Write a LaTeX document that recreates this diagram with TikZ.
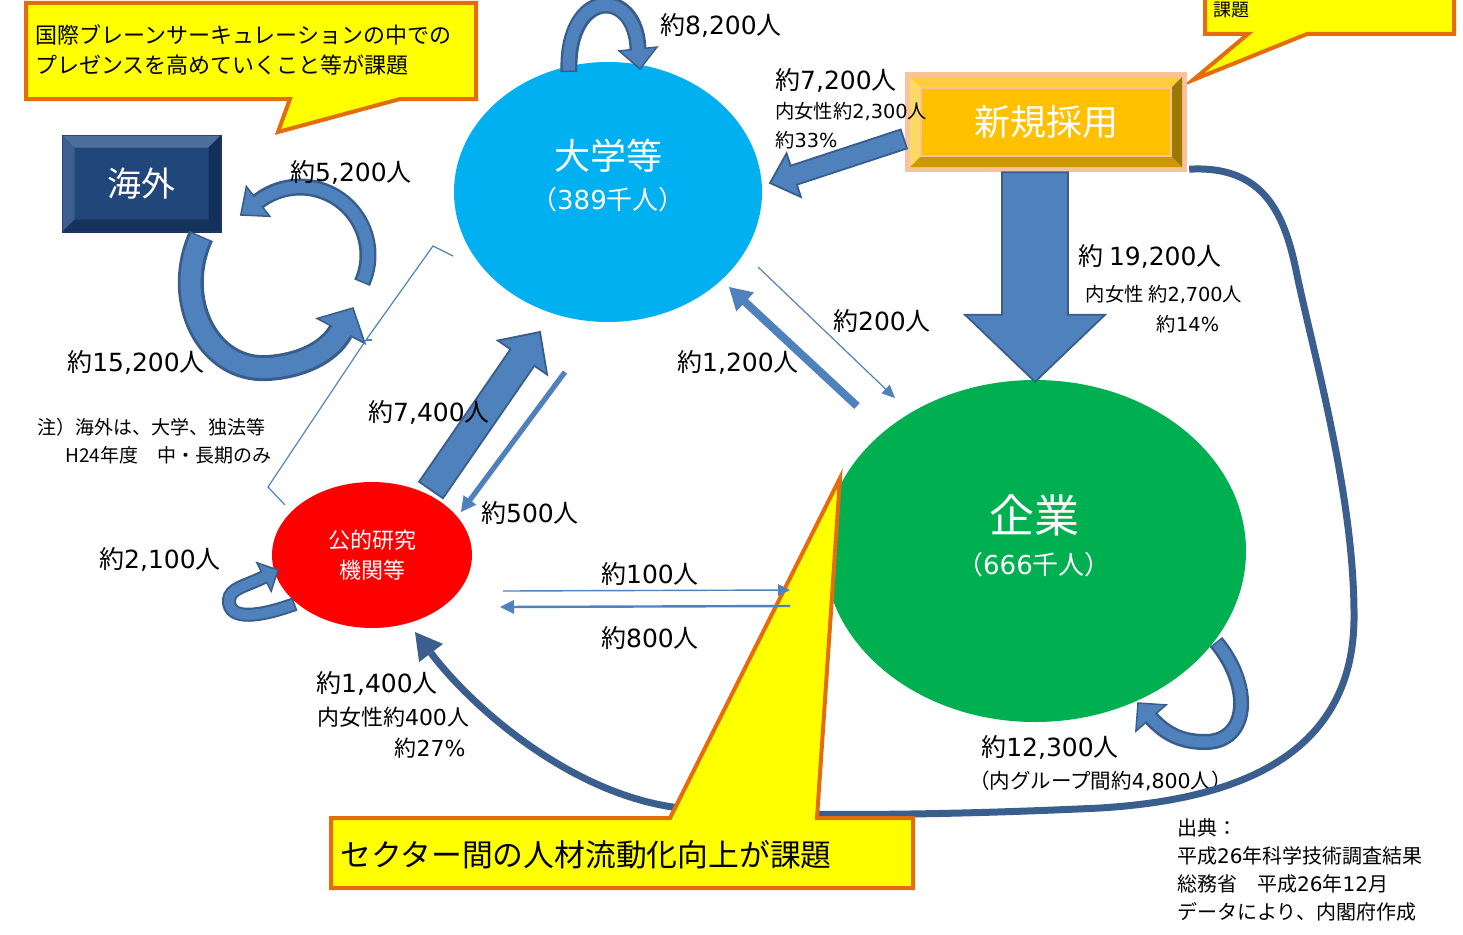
\documentclass[tikz,border=0pt]{standalone}
\usepackage{fontspec}
\setmainfont{Noto Sans CJK JP}
\newfontfamily\dgfont{DejaVu Sans}
\newcommand\dg[1]{{\dgfont #1}}
\usetikzlibrary{calc,shapes.geometric}
\definecolor{univc}{HTML}{00B0F0}
\definecolor{corpc}{HTML}{00B050}
\definecolor{pubc}{HTML}{FF0000}
\definecolor{calloutY}{HTML}{FFFF00}
\definecolor{calloutO}{HTML}{E46C0A}
\definecolor{alight}{HTML}{4F81BD}
\definecolor{adark}{HTML}{385D8A}
\definecolor{lcurve}{HTML}{3A5F8F}
\definecolor{kface}{HTML}{21477A}
\definecolor{krim}{HTML}{17375E}
\definecolor{ktop}{HTML}{4E6F9C}
\definecolor{kleft}{HTML}{3C5F8E}
\definecolor{kbot}{HTML}{16335C}
\definecolor{kright}{HTML}{12305A}
\definecolor{peach}{HTML}{F8C29A}
\definecolor{hface}{HTML}{FFC000}
\definecolor{htop}{HTML}{FFCD3A}
\definecolor{hleft}{HTML}{FFD966}
\definecolor{hbot}{HTML}{CC9A00}
\definecolor{hright}{HTML}{9C7A00}

% straight block arrow: style, from, to, half shaft, half head, head length
\newcommand\blockarrow[6]{%
  \coordinate (bahd) at ($(#3)!#6!(#2)$);
  \path[#1] ($(#2)!#4!90:(#3)$) -- ($(bahd)!#4!90:(#3)$) -- ($(bahd)!#5!90:(#3)$) -- (#3)
    -- ($(bahd)!#5!-90:(#3)$) -- ($(bahd)!#4!-90:(#3)$) -- ($(#2)!#4!-90:(#3)$) -- cycle;}
% curved block arrow: body path (ending at back point), back point, tip, outer width, inner width, half head
\newcommand\curvearrow[6]{%
  \draw[draw=adark, line width=#4] #1;
  \filldraw[fill=alight, draw=adark, line width=1.5pt, line join=miter]
    ($(#2)!#6!90:(#3)$) -- (#3) -- ($(#2)!#6!-90:(#3)$) -- cycle;
  \draw[draw=alight, line width=#5, shorten <=1.5pt, shorten >=-1.5pt] #1;}
% bevel frame inside a rectangular node
\newcommand\bevelbox[7]{%
  \coordinate (bvA) at ($(#1.north west)+(#2,#2)$);
  \coordinate (bvB) at ($(#1.north east)+(-#2,#2)$);
  \coordinate (bvC) at ($(#1.south east)+(-#2,-#2)$);
  \coordinate (bvD) at ($(#1.south west)+(#2,-#2)$);
  \coordinate (bva) at ($(bvA)+(#3,#3)$);
  \coordinate (bvb) at ($(bvB)+(-#3,#3)$);
  \coordinate (bvc) at ($(bvC)+(-#3,-#3)$);
  \coordinate (bvd) at ($(bvD)+(#3,-#3)$);
  \fill[#4] (bvA) -- (bvB) -- (bvb) -- (bva) -- cycle;
  \fill[#5] (bvA) -- (bva) -- (bvd) -- (bvD) -- cycle;
  \fill[#6] (bvD) -- (bvd) -- (bvc) -- (bvC) -- cycle;
  \fill[#7] (bvB) -- (bvC) -- (bvc) -- (bvb) -- cycle;}

\begin{document}
\begin{tikzpicture}[x=1pt,y=-1pt,
  lbl/.style={inner sep=0pt, font=\fontsize{25}{30}\selectfont},
  slbl/.style={inner sep=0pt, font=\fontsize{19.3}{23}\selectfont},
  mlbl/.style={inner sep=0pt, font=\fontsize{22}{26}\selectfont},
  nlbl/.style={inner sep=0pt, font=\fontsize{19}{23}\selectfont},
  wtxt/.style={inner sep=0pt, text=white},
  callout/.style={fill=calloutY, draw=calloutO, line width=4pt, line join=miter},
  blk/.style={fill=alight, draw=adark, line width=1.8pt, line join=miter},
  thinblk/.style={fill=alight, draw=none},
  ellnode/.style={ellipse, inner sep=0pt}]
\useasboundingbox (0,0) rectangle (1463,934);

% ---------- callouts (top) ----------
\path[callout] (1205,-20) -- (1454,-20) -- (1454,34) -- (1307,34) -- (1193,80) -- (1248,34) -- (1205,34) -- cycle;
\node[anchor=west, inner sep=0pt, font=\fontsize{18}{22}\selectfont] (trtxt) at (1213,10) {課題};
\path[callout] (26,3) -- (476,3) -- (476,99) -- (400,99) -- (278,132) -- (290,99) -- (26,99) -- cycle;
\node[anchor=west, align=left, inner sep=0pt, font=\fontsize{22}{30.5}\selectfont] (tltxt) at (35,50)
  {国際ブレーンサーキュレーションの中での\\プレゼンスを高めていくこと等が課題};

% ---------- main nodes ----------
\node[ellnode, fill=univc, minimum width=308pt, minimum height=260pt] (univ) at (608,192) {};
\node[ellnode, fill=corpc, minimum width=422pt, minimum height=342pt] (corp) at (1035,551) {};
\node[ellnode, fill=pubc, minimum width=200pt, minimum height=146pt] (pub) at (372,555) {};
\node[wtxt, font=\fontsize{36}{40}\selectfont] (univt1) at (608,156) {大学等};
\node[wtxt, font=\fontsize{26}{30}\selectfont] (univt2) at (608,200) {（\dg{389}千人）};
\node[wtxt, font=\fontsize{45}{50}\selectfont] (corpt1) at (1034,515) {企業};
\node[wtxt, font=\fontsize{26}{30}\selectfont] (corpt2) at (1034,565) {（\dg{666}千人）};
\node[wtxt, align=center, font=\fontsize{22}{30}\selectfont] (pubt) at (372,555) {公的研究\\機関等};

\node[fill=kface, draw=krim, line width=1pt, minimum width=159pt, minimum height=97pt, inner sep=0pt] (kaigai) at (141.5,183.5) {};
\bevelbox{kaigai}{1}{12}{ktop}{kleft}{kbot}{kright}
\node[wtxt, font=\fontsize{34}{40}\selectfont] (kaigait) at (kaigai) {海外};

\node[fill=peach, minimum width=282pt, minimum height=100pt, inner sep=0pt] (hire) at (1046,122) {};
\bevelbox{hire}{5}{11}{htop}{hleft}{hbot}{hright}
\draw[fill=hface, draw=peach, line width=2pt] (bva) rectangle (bvc);
\node[wtxt, font=\fontsize{36}{40}\selectfont] (hiret) at (hire) {新規採用};

% ---------- straight arrows ----------
\coordinate (h2uS) at ($(hire.west)+(-1,17)$);
\coordinate (h2uT) at (770,183);
\blockarrow{blk}{h2uS}{h2uT}{10pt}{23pt}{25pt}
\coordinate (h2cS) at ($(hire.south)+(-11,0)$);
\coordinate (h2cT) at ($(corp.north)+(0,2)$);
\blockarrow{blk}{h2cS}{h2cT}{33pt}{70pt}{67pt}
\coordinate (p2uS) at (431,490);
\coordinate (p2uT) at (540,332);
\blockarrow{blk}{p2uS}{p2uT}{14.5pt}{30pt}{31pt}
\coordinate (u2pS) at (565,372);
\coordinate (u2pT) at (461,512);
\blockarrow{thinblk}{u2pS}{u2pT}{2.6pt}{8pt}{15pt}
\coordinate (u2cS) at (758,267);
\coordinate (u2cT) at (895,398);
\blockarrow{thinblk}{u2cS}{u2cT}{0.6pt}{6pt}{13pt}
\coordinate (c2uS) at (857,406);
\coordinate (c2uT) at (729,287);
\blockarrow{thinblk}{c2uS}{c2uT}{4pt}{13pt}{22pt}

% ---------- curved arrows ----------
\coordinate (ulB) at (638,49); \coordinate (ulT) at (640,69);
\curvearrow{(569,72) .. controls (566,-12) and (636,-14) .. (ulB)}{ulB}{ulT}{17pt}{12pt}{19pt}
\coordinate (kuB) at (258.1,201.4); \coordinate (kuT) at (240.8,215);
\curvearrow{(362.1,282.7) arc[start angle=24, end angle=-128, radius=68]}{kuB}{kuT}{17pt}{12pt}{19pt}
\coordinate (klB) at (341,331); \coordinate (klT) at (353,308);
\curvearrow{(201,236) .. controls (172,300) and (208,372) .. (268,368) .. controls (300,366) and (329,353) .. (klB)}{klB}{klT}{26pt}{20pt}{27pt}
\coordinate (plB) at (264,577); \coordinate (plT) at (278,570);
\curvearrow{(295,604) .. controls (262,616) and (228,622) .. (229,600) .. controls (230,588) and (245,586.5) .. (plB)}{plB}{plT}{14pt}{10pt}{16pt}
\coordinate (clB) at (1151,718); \coordinate (clT) at (1138,703);
\curvearrow{(1216,642) .. controls (1252,685) and (1250,742) .. (1205,742) .. controls (1180,742) and (1165,733) .. (clB)}{clB}{clT}{16pt}{11pt}{20pt}

% bracket line
\draw[draw=alight, line width=1.2pt, line join=miter] (453,256) -- (433,246) -- (366,340) -- (268,487) -- (285,505);
\draw[draw=alight, line width=1.2pt] (366,340) -- (372,340);

% label under the long curve
\node[inner sep=0pt, anchor=west, font=\fontsize{20.5}{24}\selectfont] (l12300b) at (969,781) {（内グループ間約\dg{4,800}人）};

% ---------- long curve: hire -> pub ----------
\coordinate (lcS) at ($(hire.south east)+(2,-3)$);
\coordinate (lcB) at (431,653); \coordinate (lcT) at (415,632);
\draw[draw=lcurve, line width=7pt] (lcS) .. controls (1265,165) and (1285,215) .. (1297,275)
  .. controls (1315,360) and (1355,500) .. (1354,620)
  .. controls (1352,760) and (1230,800) .. (1100,808)
  .. controls (950,815) and (780,818) .. (680,808)
  .. controls (570,795) and (470,705) .. (lcB);
\fill[lcurve] ($(lcB)!15pt!90:(lcT)$) -- (lcT) -- ($(lcB)!15pt!-90:(lcT)$) -- cycle;

% ---------- bottom callout ----------
\path[callout] (331,818) -- (670,818) -- (840,478) -- (817,818) -- (913,818) -- (913,888) -- (331,888) -- cycle;
\node[anchor=west, inner sep=0pt, font=\fontsize{30.8}{36}\selectfont] (btxt) at (340,855) {セクター間の人材流動化向上が課題};

% horizontal arrows between pub and corp
\coordinate (p2cS) at (503,591); \coordinate (p2cT) at (790,590);
\blockarrow{thinblk}{p2cS}{p2cT}{0.7pt}{6pt}{12pt}
\coordinate (c2pS) at (790,606); \coordinate (c2pT) at (500,607);
\blockarrow{thinblk}{c2pS}{c2pT}{1.2pt}{7pt}{14pt}

% ---------- labels ----------
\node[lbl] (l8200) at (721,25) {約\dg{8,200}人};
\node[lbl] (l7200) at (836,80) {約\dg{7,200}人};
\node[slbl, anchor=west] (l7200b) at (775,112) {内女性約\dg{2,300}人};
\node[slbl, anchor=west] (l7200c) at (775,140) {約\dg{33\%}};
\node[lbl] (l5200) at (351,172) {約\dg{5,200}人};
\node[lbl] (l15200) at (136,362) {約\dg{15,200}人};
\node[nlbl, anchor=west] (note1) at (37,427) {注）海外は、大学、独法等};
\node[nlbl, anchor=west] (note2) at (65,455) {H24年度　中・長期のみ};
\node[lbl] (l7400) at (429,412) {約\dg{7,400}人};
\node[lbl] (l500) at (530,513) {約\dg{500}人};
\node[lbl] (l200) at (882,321) {約\dg{200}人};
\node[lbl] (l1200) at (738,362) {約\dg{1,200}人};
\node[lbl] (l19200) at (1150,256) {約 \dg{19,200}人};
\node[slbl] (l19200b) at (1164,295) {内女性 約\dg{2,700}人};
\node[slbl] (l19200c) at (1188,324) {約\dg{14\%}};
\node[lbl] (l2100) at (160,559) {約\dg{2,100}人};
\node[lbl] (l100) at (650,574) {約\dg{100}人};
\node[lbl] (l800) at (650,638) {約\dg{800}人};
\node[lbl] (l1400) at (377,683) {約\dg{1,400}人};
\node[mlbl] (l1400b) at (393,717) {内女性約\dg{400}人};
\node[mlbl] (l1400c) at (430,748) {約\dg{27\%}};
\node[lbl] (l12300) at (1050,747) {約\dg{12,300}人};
\node[anchor=north west, align=left, inner sep=0pt, font=\fontsize{20}{28}\selectfont] (src) at (1177,818)
  {出典：\\平成\dg{26}年科学技術調査結果\\総務省　平成\dg{26}年\dg{12}月\\データにより、内閣府作成};
\end{tikzpicture}
\end{document}
